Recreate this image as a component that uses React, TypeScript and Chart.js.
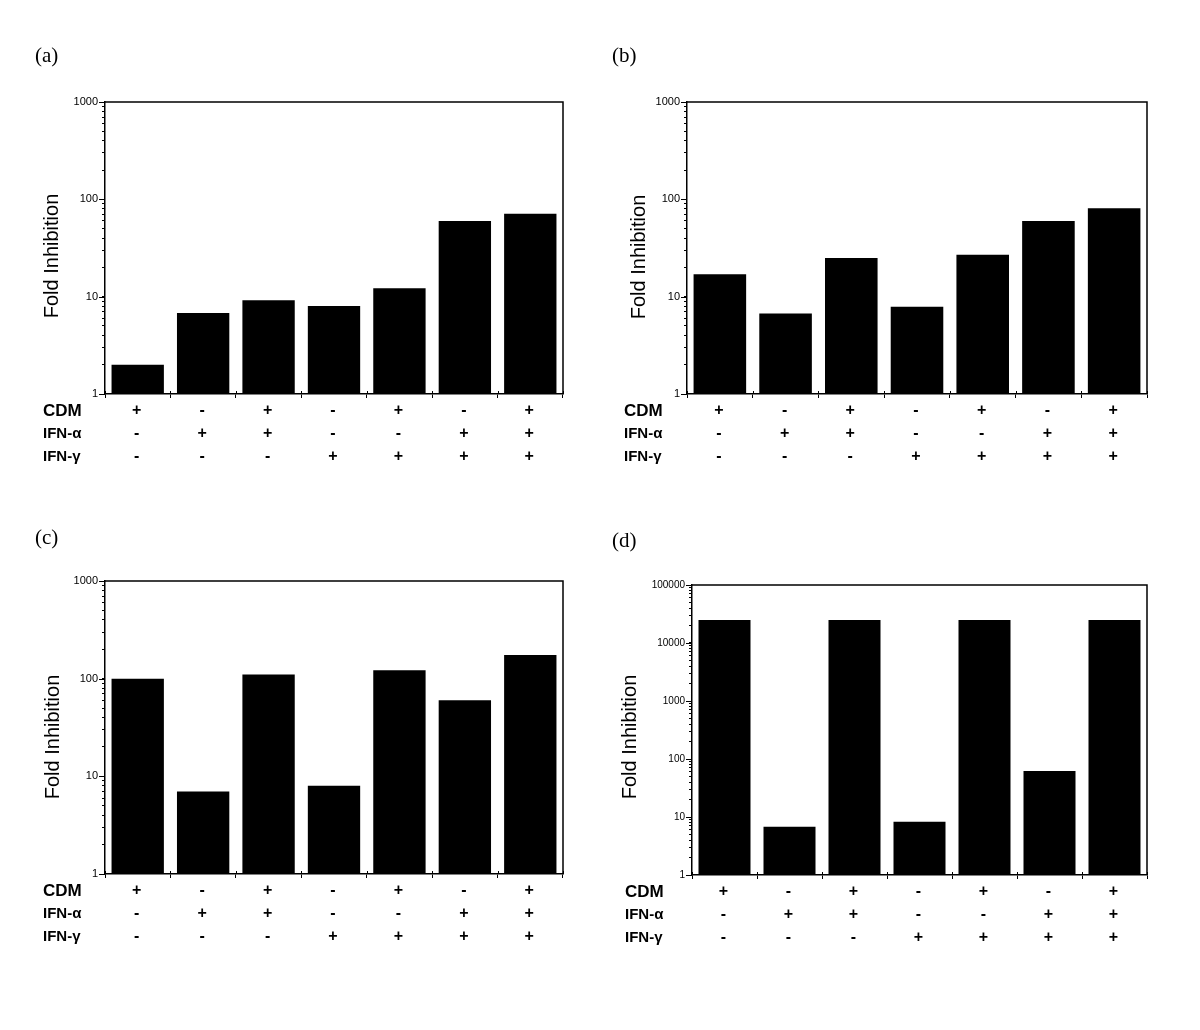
import React, { useEffect, useRef } from 'react';
import { Chart, registerables } from 'chart.js';

Chart.register(...registerables);

// ---- data ----
const categories = ['CDM', 'IFN-α', 'CDM + IFN-α', 'IFN-γ', 'CDM + IFN-γ', 'IFN-α + IFN-γ', 'CDM + IFN-α + IFN-γ'];
const rowNames = ['CDM', 'IFN-α', 'IFN-γ'];
const cdmSigns = ['+', '-', '+', '-', '+', '-', '+'];
const ifnAlphaSigns = ['-', '+', '+', '-', '-', '+', '+'];
const ifnGammaSigns = ['-', '-', '-', '+', '+', '+', '+'];

const valuesA = [2, 6.8, 9.2, 8.0, 12.2, 60, 71];
const valuesB = [17, 6.7, 25, 7.9, 27, 60, 81];
const valuesC = [100, 7.0, 110, 8.0, 122, 60, 175];
const valuesD = [25000, 6.8, 25000, 8.3, 25000, 62, 25000];

const decadesSmall = [1, 10, 100, 1000];
const decadesLarge = [1, 10, 100, 1000, 10000, 100000];
const minorMultipliers = [2, 3, 4, 5, 6, 7, 8, 9];

const panelLabels = ['(a)', '(b)', '(c)', '(d)'];
const yTitle = 'Fold Inhibition';

const SANS = '"Liberation Sans", Arial, sans-serif';
const SERIF = '"Liberation Serif", "Times New Roman", serif';

type PanelCfg = {
  label: string;
  values: number[];
  decades: number[];
  left: number; top: number; // canvas position on page
  area: { l: number; t: number; r: number; b: number }; // plot area in canvas coords
  titleX: number; titleY: number;
  labelX: number; labelY: number;
  rowsX: number;
  tickFont: number;
};

const W = 600;
const H = 515;

const panels: PanelCfg[] = [
  { label: panelLabels[0], values: valuesA, decades: decadesSmall, left: 0, top: 0,
    area: { l: 105, t: 102, r: 563, b: 394 }, titleX: 52, titleY: 256, labelX: 35, labelY: 56, rowsX: 43, tickFont: 11 },
  { label: panelLabels[1], values: valuesB, decades: decadesSmall, left: 600, top: 0,
    area: { l: 87, t: 102, r: 547, b: 394 }, titleX: 39, titleY: 257, labelX: 12, labelY: 56, rowsX: 24, tickFont: 11 },
  { label: panelLabels[2], values: valuesC, decades: decadesSmall, left: 0, top: 515,
    area: { l: 105, t: 66, r: 563, b: 359 }, titleX: 53, titleY: 222, labelX: 35, labelY: 23, rowsX: 43, tickFont: 11 },
  { label: panelLabels[3], values: valuesD, decades: decadesLarge, left: 600, top: 515,
    area: { l: 92, t: 70, r: 547, b: 360 }, titleX: 30, titleY: 222, labelX: 12, labelY: 26, rowsX: 25, tickFont: 10 },
];

function buildTickValues(decades: number[]): number[] {
  const out: number[] = [];
  decades.forEach((d, i) => {
    out.push(d);
    if (i < decades.length - 1) minorMultipliers.forEach((m) => out.push(m * d));
  });
  return out;
}

function Panel({ cfg }: { cfg: PanelCfg }) {
  const ref = useRef<HTMLCanvasElement | null>(null);

  useEffect(() => {
    const canvas = ref.current;
    if (!canvas) return;
    const tickValues = buildTickValues(cfg.decades);
    const majorSet = new Set(cfg.decades);
    const signRows = [cdmSigns, ifnAlphaSigns, ifnGammaSigns];
    const rowOffsets = [17, 40, 63];

    const overlay = {
      id: 'overlay',
      afterDraw(chart: any) {
        const { ctx, chartArea: a, scales } = chart;
        const xs = scales.x;
        const ys = scales.y;
        ctx.save();
        ctx.strokeStyle = '#000';
        ctx.lineWidth = 1.5;
        ctx.beginPath();
        ctx.moveTo(a.left, a.top);
        ctx.lineTo(a.right, a.top);
        ctx.lineTo(a.right, a.bottom);
        ctx.stroke();

        ctx.lineWidth = 1;
        ctx.beginPath();
        for (let i = 0; i <= categories.length; i++) {
          const px = Math.round(xs.getPixelForValue(i - 0.5)) + 0.5;
          ctx.moveTo(px, a.bottom);
          ctx.lineTo(px, a.bottom - 3);
        }
        cfg.decades.forEach((v) => {
          const py = Math.round(ys.getPixelForValue(v)) + 0.5;
          ctx.moveTo(a.left - 6, py);
          ctx.lineTo(a.left, py);
        });
        ctx.stroke();

        // y title
        ctx.save();
        ctx.translate(cfg.titleX, cfg.titleY);
        ctx.rotate(-Math.PI / 2);
        ctx.fillStyle = '#000';
        ctx.font = `20px ${SANS}`;
        ctx.textAlign = 'center';
        ctx.textBaseline = 'middle';
        ctx.fillText(yTitle, 0, 0);
        ctx.restore();

        // rows of +/- below the axis
        ctx.fillStyle = '#000';
        ctx.textBaseline = 'middle';
        rowNames.forEach((name, r) => {
          const yy = a.bottom + rowOffsets[r];
          ctx.textAlign = 'left';
          ctx.font = r === 0 ? `bold 17px ${SANS}` : `bold 15px ${SANS}`;
          ctx.fillText(name, cfg.rowsX, yy);
          ctx.textAlign = 'center';
          ctx.font = `bold 16px ${SANS}`;
          signRows[r].forEach((s, i) => {
            ctx.fillText(s, xs.getPixelForValue(i) - 1, yy);
          });
        });

        // panel label
        ctx.textAlign = 'left';
        ctx.font = `21px ${SERIF}`;
        ctx.fillText(cfg.label, cfg.labelX, cfg.labelY);
        ctx.restore();
      },
    };

    const chart = new Chart(canvas, {
      type: 'bar',
      data: {
        labels: categories,
        datasets: [
          {
            data: cfg.values,
            backgroundColor: '#000',
            borderWidth: 0,
            barPercentage: 0.8,
            categoryPercentage: 1,
          },
        ],
      },
      options: {
        responsive: false,
        animation: false,
        devicePixelRatio: 1,
        layout: {
          padding: { left: 0, top: cfg.area.t, right: W - cfg.area.r, bottom: 0 },
        },
        plugins: {
          legend: { display: false },
          tooltip: { enabled: false },
          title: { display: false },
        },
        scales: {
          x: {
            type: 'category',
            offset: true,
            grid: {
              display: true,
              offset: true,
              drawOnChartArea: false,
              drawTicks: true,
              tickLength: 4,
              color: '#000',
              lineWidth: 1,
            },
            border: { display: true, color: '#000', width: 1.5 },
            ticks: { display: false },
            afterFit: (scale: any) => {
              scale.height = H - cfg.area.b;
            },
          },
          y: {
            type: 'logarithmic',
            min: cfg.decades[0],
            max: cfg.decades[cfg.decades.length - 1],
            afterBuildTicks: (scale: any) => {
              scale.ticks = tickValues.map((v) => ({ value: v, major: majorSet.has(v) }));
            },
            afterFit: (scale: any) => {
              scale.width = cfg.area.l;
            },
            grid: {
              display: true,
              drawOnChartArea: false,
              drawTicks: true,
              tickLength: 3,
              color: '#000',
              lineWidth: 1,
            },
            border: { display: true, color: '#000', width: 1.5 },
            ticks: {
              autoSkip: false,
              padding: 4,
              color: '#000',
              font: { family: SANS, size: cfg.tickFont },
              callback: (v: any) => (majorSet.has(Number(v)) ? String(v) : ''),
            },
          },
        },
      },
      plugins: [overlay],
    });
    return () => chart.destroy();
  }, [cfg]);

  return (
    <canvas
      ref={ref}
      width={W}
      height={H}
      style={{ position: 'absolute', left: cfg.left, top: cfg.top, width: W, height: H }}
    />
  );
}

export default function App() {
  return (
    <div style={{ position: 'absolute', left: 0, top: 0, width: 1200, height: 1030, background: '#fff' }}>
      {panels.map((p) => (
        <Panel key={p.label} cfg={p} />
      ))}
    </div>
  );
}
